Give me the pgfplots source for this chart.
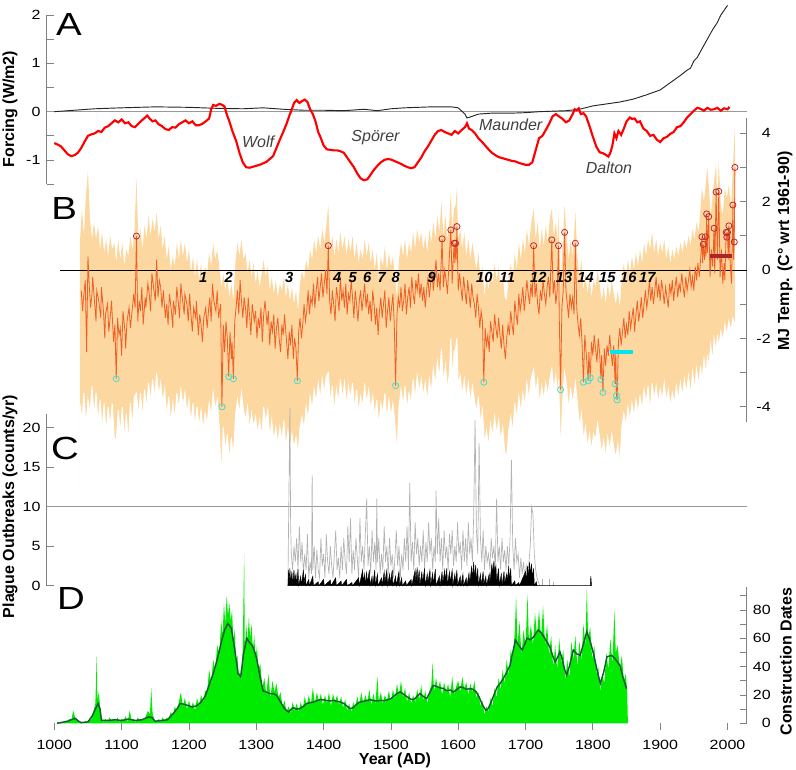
\documentclass[border=0pt]{standalone}
\usepackage{pgfplots}
\pgfplotsset{compat=1.18}
\usepackage{pgfplotstable}
\usepackage{fontspec}
\setmainfont{Liberation Sans}
\newfontfamily\tickfont{Liberation Sans}[FakeStretch=1.2]
\definecolor{bandc}{RGB}{253,215,160}
\definecolor{midc}{RGB}{240,95,35}
\definecolor{redc}{RGB}{190,40,45}
\definecolor{cyanc}{RGB}{64,224,208}
\definecolor{barred}{RGB}{178,34,45}
\definecolor{barcyan}{RGB}{0,230,235}
\definecolor{greenc}{RGB}{0,235,0}
\definecolor{dgreen}{RGB}{25,90,55}
\definecolor{axgray}{RGB}{130,130,130}

% Panel A: solar forcing (red) and total forcing (black)
\pgfplotstableread[row sep=\\]{year f\\
1000 -0.65\\1005 -0.68\\1010 -0.72\\1015 -0.80\\1020 -0.88\\1025 -0.92\\1030 -0.90\\1035 -0.85\\1040 -0.75\\1045 -0.62\\
1050 -0.50\\1055 -0.47\\1060 -0.45\\1065 -0.40\\1070 -0.42\\1075 -0.33\\1080 -0.30\\1085 -0.24\\1090 -0.18\\1095 -0.22\\
1100 -0.16\\1105 -0.24\\1110 -0.22\\1115 -0.30\\1120 -0.32\\1125 -0.25\\1130 -0.18\\1135 -0.12\\1138 -0.08\\1142 -0.15\\
1146 -0.20\\1150 -0.18\\1155 -0.26\\1160 -0.30\\1165 -0.36\\1170 -0.38\\1175 -0.32\\1180 -0.33\\1185 -0.26\\1190 -0.22\\
1195 -0.18\\1200 -0.24\\1205 -0.20\\1210 -0.28\\1215 -0.28\\1220 -0.25\\1225 -0.20\\1230 -0.14\\1233 0.05\\1236 0.14\\
1240 0.12\\1245 0.16\\1250 0.14\\1253 0.10\\1256 -0.05\\1260 -0.20\\1265 -0.42\\1270 -0.60\\1275 -0.85\\1280 -1.05\\
1285 -1.15\\1290 -1.16\\1295 -1.14\\1300 -1.12\\1305 -1.10\\1310 -1.07\\1315 -1.04\\1320 -0.98\\1325 -0.92\\1330 -0.75\\
1335 -0.58\\1340 -0.42\\1345 -0.25\\1350 -0.05\\1353 0.05\\1356 0.18\\1360 0.24\\1364 0.18\\1368 0.22\\1372 0.25\\
1376 0.20\\1380 0.05\\1384 -0.05\\1388 -0.20\\1392 -0.42\\1396 -0.55\\1400 -0.70\\1405 -0.78\\1410 -0.79\\1415 -0.80\\
1420 -0.80\\1425 -0.82\\1430 -0.85\\1435 -0.95\\1440 -1.05\\1445 -1.15\\1450 -1.28\\1455 -1.38\\1460 -1.42\\1465 -1.40\\
1470 -1.30\\1475 -1.20\\1480 -1.12\\1485 -1.05\\1490 -1.00\\1495 -0.98\\1500 -0.99\\1505 -1.02\\1510 -1.05\\1515 -1.08\\
1520 -1.12\\1525 -1.15\\1530 -1.17\\1535 -1.15\\1540 -1.05\\1545 -0.95\\1550 -0.82\\1555 -0.72\\1560 -0.60\\1565 -0.48\\
1570 -0.40\\1575 -0.38\\1580 -0.42\\1585 -0.45\\1590 -0.48\\1595 -0.40\\1600 -0.45\\1605 -0.38\\1610 -0.32\\1613 -0.24\\
1616 -0.35\\1620 -0.38\\1625 -0.45\\1630 -0.55\\1635 -0.62\\1640 -0.70\\1645 -0.78\\1650 -0.85\\1655 -0.90\\1660 -0.94\\
1665 -0.96\\1670 -0.98\\1675 -1.00\\1680 -1.02\\1685 -1.03\\1690 -1.06\\1695 -1.08\\1700 -1.10\\1705 -1.10\\1710 -1.05\\
1715 -0.80\\1720 -0.55\\1725 -0.50\\1730 -0.38\\1735 -0.25\\1740 -0.10\\1745 -0.05\\1750 -0.10\\1755 -0.15\\1760 -0.22\\
1765 -0.18\\1770 -0.05\\1773 0.05\\1776 0.03\\1779 0.07\\1782 -0.05\\1786 -0.03\\1790 -0.10\\1795 -0.30\\1800 -0.52\\
1805 -0.72\\1810 -0.84\\1815 -0.86\\1820 -0.90\\1823 -0.93\\1826 -0.85\\1829 -0.70\\1832 -0.45\\1835 -0.55\\1838 -0.40\\
1842 -0.48\\1846 -0.35\\1850 -0.20\\1855 -0.12\\1858 -0.15\\1862 -0.14\\1866 -0.22\\1870 -0.20\\1875 -0.35\\1880 -0.40\\
1885 -0.50\\1890 -0.48\\1895 -0.58\\1900 -0.63\\1905 -0.55\\1910 -0.52\\1915 -0.46\\1920 -0.42\\1925 -0.32\\1930 -0.30\\
1935 -0.22\\1940 -0.12\\1945 -0.05\\1950 0.02\\1955 0.08\\1960 0.06\\1965 0.02\\1970 0.08\\1975 0.04\\1980 0.05\\
1985 0.08\\1990 0.02\\1995 0.07\\2000 0.05\\2003 0.10\\
}\Ared

\pgfplotstableread[row sep=\\]{year f\\
1000 0.00\\1030 0.03\\1060 0.06\\1100 0.08\\1150 0.10\\1200 0.09\\1240 0.07\\1280 0.06\\1310 0.08\\1340 0.05\\
1370 0.03\\1400 0.03\\1430 0.02\\1460 0.05\\1480 0.02\\1500 0.06\\1520 0.08\\1560 0.10\\1590 0.10\\1600 0.08\\
1610 -0.05\\1613 -0.13\\1620 -0.10\\1630 -0.05\\1650 -0.03\\1680 -0.03\\1700 -0.02\\1720 0.00\\1740 0.01\\1760 0.02\\
1780 0.05\\1800 0.12\\1820 0.16\\1840 0.20\\1860 0.26\\1880 0.35\\1900 0.45\\1910 0.55\\1920 0.65\\1930 0.75\\
1940 0.86\\1945 0.90\\1950 1.05\\1955 1.12\\1960 1.25\\1970 1.50\\1978 1.70\\1985 1.85\\1990 2.00\\1995 2.10\\2000 2.20\\
}\Ablack

% Panel B: uncertainty band (first and last rows close the polygons at -6.5)
\pgfplotstableread[row sep=\\]{year lo hi\\
1038 -6.5 -6.5\\
1038 -3.9 0.8\\1041 -4.4 1.8\\1044 -3.6 1.0\\1047 -4.6 2.2\\1050 -3.8 2.9\\1053 -4.2 1.5\\1056 -3.4 0.9\\1059 -4.3 1.4\\
1062 -3.6 0.9\\1065 -4.5 1.3\\1068 -3.8 0.6\\1071 -4.7 1.1\\1074 -3.9 0.5\\1077 -4.8 0.9\\1080 -4.0 0.4\\1083 -4.6 1.0\\
1086 -3.9 0.6\\1089 -4.9 0.8\\1092 -5.0 0.2\\1095 -4.1 0.9\\1098 -4.8 0.3\\1101 -4.0 0.8\\1104 -5.0 0.1\\1107 -4.2 0.6\\
1110 -5.1 0.4\\1113 -3.9 1.0\\1116 -4.6 0.6\\1119 -3.7 1.1\\1122 -3.6 2.7\\1125 -4.3 0.8\\1128 -3.6 1.2\\1131 -4.4 0.6\\
1134 -3.5 1.3\\1137 -4.1 0.9\\1140 -3.3 1.6\\1143 -3.9 1.0\\1146 -3.2 1.5\\1149 -3.8 1.1\\1152 -3.0 1.7\\1155 -3.7 0.9\\
1158 -3.3 1.3\\1161 -3.9 0.6\\1164 -3.5 1.0\\1167 -4.3 0.3\\1170 -3.7 0.7\\1173 -4.5 0.0\\1176 -3.9 0.4\\1179 -4.4 0.1\\
1182 -3.6 0.8\\1185 -4.1 0.3\\1188 -3.5 0.9\\1191 -4.0 0.4\\1194 -3.6 0.8\\1197 -4.2 0.2\\1200 -3.8 0.6\\1203 -4.5 -0.1\\
1206 -3.9 0.4\\1209 -4.6 -0.2\\1212 -4.0 0.3\\1215 -4.6 -0.3\\1218 -4.1 0.2\\1221 -4.7 -0.4\\1224 -4.2 0.1\\1227 -4.5 -0.1\\
1230 -3.9 0.5\\1233 -4.3 0.1\\1236 -3.6 0.8\\1239 -4.1 0.3\\1242 -3.8 0.6\\1245 -4.6 0.1\\1248 -6.1 -0.5\\1251 -4.6 -0.1\\
1254 -5.3 -0.6\\1257 -4.8 -0.2\\1260 -5.6 -0.8\\1263 -4.9 -0.4\\1266 -5.5 -0.9\\1269 -4.3 0.2\\1272 -3.8 0.8\\1275 -4.2 0.4\\
1278 -3.6 0.9\\1281 -4.1 0.3\\1284 -4.4 0.5\\1287 -4.0 -0.1\\1290 -4.7 0.3\\1293 -4.2 -0.2\\1296 -4.6 0.2\\1299 -4.3 -0.4\\
1302 -4.8 0.0\\1305 -4.4 -0.5\\1308 -4.9 -0.1\\1311 -4.0 0.3\\1314 -4.5 -0.2\\1317 -4.1 0.1\\1320 -4.9 -0.6\\1323 -4.4 -0.2\\
1326 -5.0 -0.7\\1329 -4.6 -0.3\\1332 -5.1 -0.8\\1335 -4.6 -0.4\\1338 -5.0 -0.6\\1341 -4.4 -0.2\\1344 -5.2 -0.8\\1347 -4.7 -0.4\\
1350 -5.3 -0.9\\1353 -4.8 -0.5\\1356 -5.2 -1.0\\1359 -4.9 -0.6\\1362 -5.4 -1.2\\1365 -4.6 -0.4\\1368 -4.3 0.0\\1371 -4.7 -0.3\\
1374 -4.0 0.3\\1377 -4.4 0.0\\1380 -3.7 0.6\\1383 -4.1 0.3\\1386 -3.5 0.9\\1389 -3.9 0.5\\1392 -3.3 1.0\\1395 -3.8 0.6\\
1398 -3.2 1.2\\1401 -3.6 0.8\\1404 -3.1 1.3\\1407 -3.0 1.9\\1410 -3.9 0.6\\1413 -3.4 1.0\\1416 -4.2 0.4\\1419 -3.5 0.9\\
1422 -3.9 0.5\\1425 -3.2 1.1\\1428 -3.8 0.6\\1431 -3.3 1.0\\1434 -4.0 0.4\\1437 -3.4 0.9\\1440 -3.8 0.5\\1443 -3.3 1.0\\
1446 -4.1 0.3\\1449 -3.5 0.8\\1452 -4.2 0.2\\1455 -3.7 0.6\\1458 -4.0 0.3\\1461 -3.4 0.9\\1464 -3.9 0.4\\1467 -3.5 0.8\\
1470 -4.1 0.2\\1473 -3.7 0.6\\1476 -4.3 0.0\\1479 -3.8 0.5\\1482 -4.6 -0.3\\1485 -3.9 0.4\\1488 -4.2 0.1\\1491 -3.6 0.7\\
1494 -4.4 0.0\\1497 -3.8 0.5\\1500 -4.3 0.1\\1503 -3.9 0.4\\1506 -4.5 -0.2\\1509 -5.4 -0.8\\1512 -4.0 0.3\\1515 -3.5 0.8\\
1518 -4.0 0.4\\1521 -3.4 0.9\\1524 -4.1 0.3\\1527 -3.6 0.8\\1530 -3.9 0.5\\1533 -3.2 1.1\\1536 -3.8 0.6\\1539 -3.1 1.2\\
1542 -3.6 0.8\\1545 -3.2 1.1\\1548 -3.7 0.6\\1551 -3.3 1.0\\1554 -3.9 0.5\\1557 -3.2 1.2\\1560 -3.6 0.8\\1563 -2.9 1.4\\
1566 -3.4 0.9\\1569 -2.7 1.6\\1572 -3.2 1.1\\1575 -2.3 2.0\\1578 -3.3 1.0\\1581 -2.8 1.6\\1584 -3.5 0.9\\1587 -3.0 1.5\\
1589 -2.0 2.3\\1591 -3.2 1.2\\1594 -2.4 1.8\\1596 -2.3 1.9\\1598 -2.0 2.4\\1600 -3.4 0.9\\1603 -3.1 1.2\\1606 -3.7 0.6\\
1609 -3.2 1.1\\1612 -3.8 0.4\\1615 -3.3 0.9\\1618 -3.9 0.3\\1621 -3.4 0.8\\1624 -3.8 0.4\\1627 -4.2 0.0\\1630 -3.7 0.5\\
1633 -4.5 -0.3\\1636 -4.1 0.1\\1639 -5.1 -0.8\\1642 -4.7 -0.2\\1645 -5.2 -0.6\\1648 -4.5 0.0\\1651 -4.9 -0.4\\1654 -4.3 0.2\\
1657 -4.8 -0.3\\1660 -4.4 0.1\\1663 -5.0 -0.5\\1666 -4.6 -0.1\\1669 -5.3 -0.8\\1672 -5.5 -0.9\\1675 -4.7 -0.2\\1678 -4.3 0.2\\
1681 -4.8 -0.3\\1684 -3.9 0.5\\1687 -4.4 0.0\\1690 -3.7 0.8\\1693 -4.2 0.3\\1696 -3.6 0.9\\1699 -4.0 0.5\\1702 -3.3 1.2\\
1705 -3.8 0.7\\1708 -3.2 1.3\\1712 -2.9 1.8\\1715 -3.6 0.9\\1718 -3.2 1.4\\1721 -4.0 0.6\\1724 -3.4 1.2\\1727 -3.8 0.7\\
1730 -3.3 1.3\\1733 -3.7 0.8\\1736 -3.2 1.5\\1739 -2.9 1.8\\1742 -3.5 1.0\\1745 -3.1 1.4\\1748 -3.8 0.8\\1749 -3.2 1.7\\
1752 -5.4 -0.6\\1755 -3.9 0.7\\1758 -3.0 1.9\\1761 -3.4 1.0\\1764 -4.1 0.3\\1767 -3.5 0.9\\1770 -3.9 0.4\\1774 -3.3 1.7\\
1777 -3.9 0.4\\1780 -4.6 -0.2\\1783 -4.2 0.3\\1786 -5.0 -0.6\\1789 -4.6 -0.1\\1792 -5.2 -0.7\\1795 -4.8 -0.2\\1798 -5.3 -0.8\\
1801 -4.8 -0.3\\1804 -5.0 -0.5\\1807 -4.5 0.0\\1810 -4.9 -0.4\\1813 -5.4 -0.9\\1816 -5.0 -0.5\\1819 -5.5 -1.0\\1822 -4.9 -0.4\\
1825 -5.3 -0.8\\1828 -4.8 -0.3\\1831 -5.2 -0.7\\1834 -5.5 -1.0\\1837 -5.1 -0.6\\1840 -5.7 -1.1\\1843 -4.6 -0.2\\1846 -4.2 0.2\\
1849 -4.6 -0.3\\1852 -4.0 0.3\\1855 -4.4 -0.1\\1858 -3.9 0.4\\1861 -4.3 0.0\\1864 -3.8 0.5\\1867 -4.2 0.1\\1870 -3.7 0.6\\
1873 -4.1 0.2\\1876 -3.5 0.8\\1879 -3.9 0.4\\1882 -3.4 0.9\\1885 -4.2 0.6\\1888 -3.3 1.1\\1891 -3.8 0.5\\1894 -3.4 0.9\\
1897 -3.9 0.4\\1900 -3.5 0.8\\1903 -3.8 0.5\\1906 -3.3 0.9\\1909 -3.9 0.3\\1912 -3.5 0.7\\1915 -4.0 0.2\\1918 -3.6 0.6\\
1921 -3.9 0.3\\1924 -3.4 0.7\\1927 -3.8 0.4\\1930 -3.3 0.8\\1933 -3.7 0.5\\1936 -3.2 0.9\\1939 -3.6 0.6\\1942 -3.1 1.0\\
1945 -3.7 0.7\\1948 -3.0 1.2\\1951 -3.5 0.9\\1954 -2.9 1.4\\1957 -3.4 1.1\\1960 -2.8 1.8\\1962 -3.3 2.4\\1965 -2.6 2.0\\
1968 -3.1 2.6\\1970 -2.5 3.0\\1972 -2.9 2.5\\1975 -2.2 1.6\\1978 -2.7 2.2\\1980 -2.0 2.6\\1983 -2.4 3.1\\1985 -1.9 2.0\\
1987 -2.3 3.2\\1990 -1.8 1.9\\1993 -2.1 1.6\\1996 -1.6 2.4\\1999 -1.9 2.1\\2002 -1.5 2.5\\2005 -1.8 1.8\\2008 -1.4 3.0\\
2011 -1.6 4.2\\
2011 -6.5 -6.5\\
}\Bband

% Panel B: MJ temperature
\pgfplotstableread[row sep=\\]{year t\\
1040 -0.6\\1042 -1.2\\1043 -0.9\\1046 -0.3\\1048 -2.4\\1050 0.4\\1052 -0.5\\1054 -1.1\\1056 -0.7\\1057 -0.2\\
1060 -1.0\\1062 -1.5\\1063 -0.6\\1066 -0.9\\1069 -1.4\\1070 -0.5\\1073 -1.2\\1075 -2.0\\1076 -1.3\\1079 -1.0\\
1081 -1.8\\1083 -1.4\\1085 -0.9\\1088 -2.1\\1090 -1.6\\1092 -3.18\\1094 -1.4\\1096 -1.9\\1098 -1.7\\1100 -2.5\\
1102 -1.2\\1105 -1.8\\1106 -2.3\\1108 -1.5\\1111 -1.1\\1113 -1.7\\1115 -1.3\\1118 -0.7\\1120 -1.1\\1122 0.99\\
1124 -1.5\\1126 -0.9\\1128 -1.2\\1130 -0.5\\1132 -1.6\\1135 -0.8\\1136 -1.1\\1139 -0.4\\1141 -0.7\\1143 -1.2\\
1145 -0.1\\1148 -0.6\\1150 -0.9\\1152 0.3\\1154 -0.8\\1156 -0.3\\1158 -0.5\\1160 -1.1\\1162 -0.6\\1165 -1.4\\
1167 -1.0\\1169 -1.6\\1171 -0.7\\1174 -1.2\\1176 -1.7\\1177 -0.9\\1180 -1.3\\1182 -0.5\\1184 -0.9\\1186 -1.4\\
1188 -0.4\\1190 -0.8\\1193 -1.3\\1194 -0.7\\1197 -1.0\\1199 -1.5\\1201 -0.7\\1203 -1.3\\1205 -1.8\\1207 -1.1\\
1210 -1.4\\1211 -0.9\\1214 -1.9\\1216 -1.3\\1218 -1.6\\1220 -2.1\\1222 -1.4\\1225 -1.1\\1227 -1.7\\1229 -1.2\\
1231 -0.8\\1233 -1.5\\1235 -0.4\\1237 -0.9\\1240 -1.2\\1242 -0.6\\1244 -1.4\\1247 -1.0\\1249 -4.0\\1251 -1.6\\
1253 -2.4\\1255 -1.5\\1257 -2.0\\1259 -3.12\\1261 -1.8\\1263 -2.6\\1264 -2.1\\1266 -3.18\\1268 -1.5\\1270 -1.1\\
1272 -0.6\\1274 -1.3\\1276 -0.3\\1278 -0.9\\1280 -1.4\\1282 -0.8\\1284 -1.1\\1286 -1.7\\1288 -0.8\\1290 -1.3\\
1292 -1.9\\1294 -1.0\\1297 -1.5\\1299 -1.2\\1301 -2.0\\1303 -1.4\\1305 -1.7\\1307 -1.1\\1309 -2.1\\1311 -1.3\\
1313 -0.9\\1316 -1.6\\1318 -1.2\\1320 -2.2\\1322 -1.5\\1324 -1.8\\1326 -1.3\\1328 -2.3\\1330 -1.7\\1332 -1.4\\
1334 -2.0\\1336 -2.4\\1338 -1.6\\1340 -1.9\\1342 -1.3\\1345 -2.1\\1347 -2.6\\1349 -1.8\\1351 -2.2\\1353 -1.6\\
1355 -2.6\\1357 -2.0\\1359 -2.3\\1361 -3.24\\1363 -1.8\\1365 -1.4\\1367 -2.0\\1369 -1.6\\1371 -1.0\\1373 -1.5\\
1375 -1.2\\1377 -0.6\\1379 -1.3\\1381 -0.8\\1383 -1.0\\1385 -0.4\\1387 -1.1\\1389 -0.6\\1391 -0.2\\1393 -0.9\\
1395 -0.5\\1397 -0.1\\1399 -0.8\\1401 -0.4\\1403 0.0\\1405 -0.7\\1407 0.71\\1409 -0.9\\1411 -1.3\\1413 -0.6\\
1415 -1.0\\1417 -1.5\\1419 -0.5\\1421 -0.8\\1423 -1.2\\1425 -0.2\\1427 -0.9\\1429 -0.6\\1431 -1.1\\1433 -0.4\\
1435 -1.3\\1437 -0.7\\1439 -0.9\\1441 -0.3\\1443 -0.8\\1445 -1.4\\1447 -0.6\\1449 -1.0\\1451 -1.5\\1453 -0.9\\
1455 -0.6\\1457 -1.2\\1459 -0.8\\1461 -0.4\\1463 -1.1\\1465 -0.7\\1467 -1.3\\1469 -0.9\\1471 -1.5\\1473 -0.6\\
1475 -1.0\\1477 -1.6\\1479 -1.1\\1481 -1.9\\1483 -1.2\\1485 -0.8\\1487 -1.4\\1489 -1.0\\1491 -0.6\\1493 -1.7\\
1495 -1.2\\1497 -0.8\\1499 -1.5\\1501 -1.1\\1503 -0.7\\1505 -1.6\\1507 -3.38\\1509 -1.3\\1511 -0.8\\1513 -1.1\\
1515 -0.5\\1517 -1.2\\1519 -0.9\\1521 -0.4\\1523 -1.3\\1525 -0.8\\1527 -0.5\\1529 -1.1\\1531 -0.2\\1533 -0.7\\
1535 -1.0\\1537 -0.3\\1539 -0.6\\1541 -0.1\\1543 -0.8\\1545 -0.4\\1547 -0.9\\1549 -0.5\\1551 -1.1\\1553 -0.6\\
1555 -0.2\\1557 -0.8\\1559 -0.4\\1561 0.0\\1563 -0.6\\1565 -0.2\\1567 0.3\\1569 -0.5\\1571 -0.1\\1573 -0.6\\
1576 0.91\\1578 -0.5\\1580 0.0\\1582 -0.3\\1584 -0.7\\1586 0.1\\1589 1.17\\1591 -0.4\\1592 0.1\\1594 0.78\\
1595 0.2\\1596 0.78\\1597 0.3\\1598 1.27\\1600 -0.6\\1602 -0.1\\1604 -0.5\\1606 -0.9\\1608 -0.2\\1610 -0.6\\
1612 -1.0\\1614 -0.3\\1616 -0.7\\1618 -1.1\\1620 -0.4\\1622 -0.8\\1624 -1.0\\1626 -1.4\\1628 -0.7\\1630 -1.1\\
1632 -1.7\\1634 -1.2\\1636 -1.5\\1638 -3.28\\1640 -1.7\\1642 -2.2\\1644 -1.9\\1646 -2.4\\1648 -1.5\\1650 -1.8\\
1652 -2.1\\1654 -1.3\\1656 -1.7\\1658 -2.0\\1660 -1.4\\1662 -1.9\\1664 -2.3\\1666 -1.6\\1668 -2.2\\1670 -2.6\\
1672 -2.0\\1674 -1.6\\1676 -1.9\\1678 -1.2\\1680 -1.6\\1682 -1.9\\1684 -0.9\\1686 -1.3\\1688 -1.6\\1690 -0.7\\
1692 -1.2\\1694 -0.9\\1696 -0.5\\1698 -1.2\\1700 -0.8\\1702 -0.3\\1704 -0.7\\1706 -1.0\\1708 -0.4\\1710 -0.8\\
1712 0.71\\1714 -0.8\\1716 -0.4\\1718 -1.0\\1720 -1.3\\1722 -0.6\\1724 -0.9\\1726 -0.3\\1728 -0.7\\1730 -1.0\\
1732 -0.5\\1734 -0.2\\1736 -0.8\\1739 0.88\\1741 -0.7\\1743 -0.3\\1745 -1.0\\1747 -0.6\\1749 0.71\\1750 -1.3\\
1752 -3.5\\1754 -1.1\\1756 -0.6\\1758 1.1\\1760 -0.6\\1762 -1.0\\1764 -1.4\\1766 -0.7\\1768 -1.1\\1770 -0.8\\
1772 -1.3\\1774 0.78\\1776 -1.1\\1778 -1.6\\1780 -1.9\\1782 -1.4\\1784 -2.2\\1786 -3.28\\1788 -1.9\\1790 -2.4\\
1791 -2.7\\1793 -3.24\\1794 -2.4\\1796 -3.15\\1798 -2.1\\1800 -2.5\\1802 -1.9\\1804 -2.3\\1806 -2.7\\1808 -2.0\\
1810 -2.4\\1812 -3.2\\1813 -2.5\\1815 -3.58\\1817 -2.3\\1819 -2.8\\1821 -2.2\\1823 -2.5\\1825 -1.9\\1827 -2.4\\
1829 -2.8\\1831 -2.2\\1833 -3.33\\1834 -2.4\\1835 -3.67\\1836 -3.8\\1838 -2.1\\1840 -1.7\\1842 -2.2\\1844 -1.8\\
1846 -1.4\\1848 -2.0\\1850 -1.6\\1852 -1.9\\1854 -1.2\\1856 -1.7\\1858 -1.4\\1860 -1.1\\1862 -1.8\\1864 -1.3\\
1866 -0.9\\1868 -1.5\\1870 -1.2\\1872 -0.8\\1874 -1.4\\1876 -1.0\\1878 -0.6\\1880 -1.1\\1882 -0.8\\1884 -0.3\\
1886 -0.9\\1888 -0.5\\1890 -1.0\\1892 -0.6\\1894 -0.2\\1896 -0.8\\1898 -0.4\\1900 -0.9\\1902 -0.3\\1904 -0.6\\
1906 -1.0\\1908 -0.5\\1910 -0.8\\1912 -1.1\\1914 -0.4\\1916 -0.7\\1918 -0.3\\1920 -0.9\\1922 -0.5\\1924 -0.2\\
1926 -0.8\\1928 -0.4\\1930 -0.6\\1932 -0.1\\1934 -0.5\\1936 -0.8\\1938 -0.2\\1940 -0.6\\1942 -0.3\\1944 0.0\\
1946 -0.5\\1948 -0.2\\1950 -0.6\\1952 0.1\\1954 -0.3\\1956 0.2\\1958 -0.2\\1960 0.3\\1962 0.97\\1963 0.2\\
1964 0.75\\1966 0.3\\1967 0.97\\1968 0.4\\1969 1.64\\1970 0.5\\1972 1.56\\1974 -0.2\\1976 0.6\\1978 0.1\\
1980 1.22\\1981 -0.1\\1983 2.28\\1985 0.3\\1987 2.30\\1989 -0.2\\1991 0.6\\1993 -0.4\\1995 0.2\\1996 -0.3\\
1998 1.1\\1999 0.96\\2000 1.1\\2001 0.3\\2002 1.29\\2004 0.2\\2006 -0.4\\2008 1.90\\2009 0.3\\2010 0.82\\
2011 3.0\\
}\Bmidline

\pgfplotstableread[row sep=\\]{year t\\
1122 0.99\\1407 0.71\\1576 0.91\\1589 1.17\\1594 0.78\\1596 0.78\\1598 1.27\\1712 0.71\\1739 0.88\\1749 0.71\\
1758 1.1\\1774 0.78\\1962 0.97\\1964 0.75\\1967 0.97\\1969 1.64\\1972 1.56\\1980 1.22\\1983 2.28\\1987 2.30\\
1998 1.1\\1999 0.96\\2000 1.1\\2002 1.29\\2008 1.90\\2010 0.82\\2011 3.0\\
}\Bwarm

\pgfplotstableread[row sep=\\]{year t\\
1092 -3.18\\1249 -4.0\\1259 -3.12\\1266 -3.18\\1361 -3.24\\1507 -3.38\\1638 -3.28\\1752 -3.5\\1786 -3.28\\1793 -3.24\\
1796 -3.15\\1812 -3.2\\1815 -3.58\\1833 -3.33\\1835 -3.67\\1836 -3.8\\
}\Bcold

% Panel C: plague outbreaks
\pgfplotstableread[row sep=\\]{year n\\
1347 0\\1348 8\\1349 15\\1350 22.5\\1351 8\\1352 4\\1354 2\\1356 5\\1358 3\\1360 6\\1362 2\\1364 7.5\\1366 3\\1368 5.5\\
1370 1.5\\1372 4\\1374 2\\1376 6.5\\1378 1\\1380 3\\1382 1.5\\1383 14\\1384 2\\1386 5\\1388 1\\1390 4.5\\1392 2\\1394 1\\
1396 6\\1398 2.5\\1400 4\\1402 1\\1404 6.5\\1406 3\\1408 1.5\\1410 5\\1412 2.5\\1414 1\\1416 4\\1418 7\\1420 2\\1422 3.5\\
1424 1\\1426 5\\1428 2\\1430 6\\1432 3\\1434 1.5\\1436 7.5\\1438 3\\1440 8.5\\1442 1.5\\1444 4.5\\1446 2\\1448 6\\1450 3.5\\
1452 1\\1454 8.5\\1456 3\\1458 5\\1460 2\\1462 6.5\\1464 11\\1466 2.5\\1468 5\\1470 1.5\\1472 7\\1474 3\\1476 5.5\\1478 2\\
1479 11\\1480 3\\1482 6\\1484 1.5\\1486 4\\1488 2\\1490 7.5\\1492 3\\1494 5\\1496 1.5\\1498 6\\1500 2.5\\1502 4\\1504 1\\
1506 3.5\\1508 7\\1510 2.5\\1512 5\\1514 1\\1516 4\\1518 2\\1520 6\\1522 3\\1524 7.5\\1526 2\\1528 13\\1530 3\\1532 5.5\\
1534 2\\1536 8\\1538 4\\1540 6\\1542 2.5\\1544 5\\1546 3\\1548 7\\1550 2\\1552 5.5\\1554 3\\1556 8\\1558 4\\1560 6\\1562 2\\
1564 5\\1566 3\\1567 12\\1569 4\\1571 8.5\\1573 3\\1575 6\\1577 2\\1579 7\\1581 3.5\\1583 5\\1585 2\\1587 6.5\\1589 4\\
1591 7\\1593 2.5\\1595 5\\1597 3\\1599 8\\1601 4\\1603 5.5\\1605 2\\1607 7\\1609 3\\1611 6\\1613 2.5\\1615 8\\1617 4\\
1619 6\\1621 3\\1623 9\\1625 20.9\\1627 7\\1629 4\\1631 18\\1633 6\\1635 3\\1637 7\\1639 2\\1641 5\\1643 3\\1645 4\\
1647 2\\1649 6\\1651 3.5\\1653 5\\1655 2\\1657 11\\1659 3\\1661 5\\1663 2\\1665 6\\1667 3\\1669 4.5\\1671 2\\1673 5\\
1675 2.5\\1677 6\\1679 15.9\\1681 5\\1683 2\\1685 6\\1687 3\\1689 4\\1691 1\\1693 3.5\\1695 1.5\\1697 3\\1699 1\\
1701 2.5\\1703 1\\1705 3\\1707 5\\1709 10\\1711 9\\1713 4\\1715 2\\1717 1\\1719 0.5\\1721 0\\
}\Cgray

\pgfplotstableread[row sep=\\]{year n\\
1347 0\\1348 2\\1349 0.5\\1350 2.2\\1351 0.3\\1353 1.8\\1354 0\\1356 2\\1357 0.5\\1359 1.5\\1360 0\\1362 2.1\\1363 0\\
1366 1.2\\1367 0\\1370 2\\1371 0.3\\1373 1.5\\1374 0\\1378 0.8\\1379 0\\1384 1.2\\1385 0\\1392 0.5\\1393 0\\1400 0.8\\
1401 0\\1410 0.7\\1411 0\\1418 1\\1419 0\\1426 0.6\\1427 0\\1434 0.8\\1435 0\\1442 0.4\\1443 0\\1452 1\\1453 0\\1458 2\\
1459 0.5\\1461 1.5\\1462 0\\1464 1.8\\1465 0.3\\1468 2\\1469 0\\1472 1.2\\1473 0\\1476 2\\1477 0\\1480 1.5\\1481 0\\
1486 1\\1487 0\\1490 1.8\\1491 0.4\\1494 2\\1495 0\\1498 1.5\\1499 0.3\\1502 2\\1503 0\\1507 1.2\\1508 0\\1512 1.8\\
1513 0\\1516 1\\1517 0\\1522 0.6\\1523 0\\1530 0.8\\1531 0\\1536 2\\1537 0.5\\1539 2.3\\1540 0.4\\1542 2\\1543 0\\
1546 1.8\\1547 0.3\\1550 2.2\\1551 0\\1554 1.5\\1555 0.4\\1558 2\\1559 0\\1562 1.6\\1563 0.2\\1566 2.1\\1567 0\\
1572 1.2\\1573 0\\1576 1.8\\1577 0.3\\1580 2\\1581 0.5\\1583 2.2\\1584 0\\1587 1.8\\1588 0.4\\1591 2\\1592 0\\
1595 1.5\\1596 0.3\\1598 2\\1599 0\\1603 1.2\\1604 0\\1607 1.5\\1608 0\\1612 1\\1613 0\\1616 1.6\\1617 0.2\\
1620 2.5\\1621 0.8\\1623 3\\1624 1\\1626 2.6\\1627 0.5\\1629 2.2\\1630 0\\1633 1.5\\1634 0\\1637 1.8\\1638 0.2\\
1641 1.2\\1642 0\\1646 1.5\\1647 0.4\\1650 2.8\\1651 1.5\\1653 3.1\\1654 1.8\\1656 2.5\\1657 0.5\\1660 2.2\\1661 0\\
1664 1.5\\1665 0\\1668 1.8\\1669 0.3\\1672 1.5\\1673 0.5\\1675 2.5\\1676 0.6\\1678 2.2\\1679 0\\1684 0.6\\1685 0\\
1690 0.4\\1691 0\\1700 1.8\\1701 0.5\\1703 2.5\\1704 1\\1706 3\\1707 1.5\\1709 2.8\\1710 1\\1712 2.2\\1713 0\\
1716 0.5\\1717 0\\1796 0\\1797 1.2\\1798 0\\
}\Cblack

% Panel D: construction dates
\pgfplotstableread[row sep=\\]{year n\\
1004 1\\1007 0\\1010 1\\1013 0.5\\1016 2\\1019 1\\1022 3\\1025 1.5\\1028 9\\1031 4\\1034 3\\1037 0.5\\1040 1\\1043 0\\
1046 1.5\\1049 0.5\\1052 2\\1055 3\\1058 8\\1061 14\\1063 48\\1064 16\\1066 22\\1068 12\\1070 4\\1073 1\\1076 3\\1079 1\\
1082 4\\1085 2\\1088 3\\1091 1.5\\1094 4\\1097 1\\1100 3\\1103 2\\1106 5\\1109 1\\1112 9\\1115 2\\1118 3\\1121 1\\1124 4\\
1127 2\\1130 3\\1133 2\\1136 5\\1139 9\\1142 6\\1144 25\\1146 7\\1149 2\\1152 1\\1155 3\\1158 1.5\\1161 4\\1164 2\\1167 4\\
1170 3\\1173 8\\1176 5\\1179 12\\1182 8\\1185 15\\1188 22\\1191 12\\1194 18\\1197 10\\1200 16\\1203 11\\1206 15\\1209 9\\
1212 18\\1215 12\\1218 20\\1221 15\\1224 23\\1227 22\\1230 38\\1233 28\\1236 45\\1239 38\\1242 55\\1245 50\\1248 72\\
1250 62\\1252 85\\1254 70\\1256 90\\1258 76\\1260 85\\1262 72\\1264 80\\1266 58\\1268 66\\1270 45\\1272 48\\1274 32\\
1276 38\\1278 30\\1280 55\\1282 120\\1283 50\\1285 70\\1287 58\\1289 75\\1291 60\\1293 70\\1295 52\\1297 62\\1299 45\\
1301 55\\1303 38\\1306 42\\1309 25\\1312 32\\1315 20\\1318 35\\1321 18\\1324 30\\1327 22\\1330 28\\1333 18\\1336 22\\
1339 12\\1342 16\\1345 8\\1348 12\\1351 7\\1354 15\\1357 9\\1360 14\\1363 8\\1366 15\\1369 10\\1372 19\\1375 12\\1378 20\\
1381 13\\1384 25\\1387 14\\1390 22\\1393 15\\1396 21\\1399 13\\1402 20\\1405 14\\1408 22\\1411 12\\1414 21\\1417 15\\
1420 20\\1423 13\\1426 19\\1429 11\\1432 17\\1435 9\\1438 14\\1441 8\\1444 15\\1447 11\\1450 19\\1453 13\\1456 22\\
1459 14\\1462 20\\1465 15\\1468 24\\1471 13\\1474 21\\1477 14\\1480 33\\1482 15\\1485 22\\1488 14\\1491 20\\1494 16\\
1497 23\\1500 15\\1503 24\\1506 17\\1509 28\\1512 20\\1515 30\\1518 18\\1521 25\\1524 15\\1527 22\\1530 14\\1533 20\\
1536 15\\1539 24\\1542 17\\1545 27\\1548 16\\1551 23\\1554 14\\1557 22\\1560 27\\1562 43\\1564 22\\1567 32\\1570 24\\
1573 30\\1576 20\\1579 29\\1582 22\\1585 28\\1588 18\\1591 33\\1594 20\\1597 26\\1600 30\\1603 22\\1606 33\\1609 24\\
1612 29\\1615 20\\1618 28\\1621 22\\1624 30\\1627 18\\1630 22\\1633 12\\1636 16\\1639 6\\1642 12\\1645 8\\1648 18\\
1651 12\\1654 25\\1657 18\\1660 32\\1663 24\\1666 38\\1669 28\\1672 45\\1675 34\\1678 52\\1681 45\\1684 65\\1686 90\\
1688 55\\1691 72\\1694 48\\1697 66\\1700 55\\1703 91\\1705 58\\1708 70\\1711 55\\1714 78\\1717 62\\1720 80\\1723 60\\
1726 83\\1729 55\\1732 70\\1735 48\\1738 62\\1741 40\\1744 55\\1747 38\\1750 60\\1753 42\\1756 52\\1759 30\\1762 45\\
1765 32\\1768 58\\1771 45\\1774 62\\1777 40\\1780 58\\1783 44\\1786 70\\1789 55\\1791 96\\1793 60\\1796 68\\1799 45\\
1802 55\\1805 35\\1808 40\\1811 22\\1814 35\\1817 28\\1820 50\\1823 38\\1826 60\\1829 42\\1832 80\\1834 50\\1837 55\\
1840 38\\1843 48\\1846 30\\1849 35\\1851 22\\1852 0\\
}\Dbars

\pgfplotstableread[row sep=\\]{year s\\
1004 0\\1010 0.5\\1020 1.5\\1025 2.5\\1031 3.5\\1036 1.5\\1040 0.5\\1050 1\\1056 5\\1060 9\\1065 14\\1068 10\\1070 2\\
1080 2\\1090 2.5\\1100 2\\1110 3\\1120 2\\1130 2.5\\1140 4.5\\1145 4\\1150 1.5\\1160 2\\1168 2.5\\1175 6\\1182 10\\
1187 14\\1192 13.5\\1197 12.8\\1205 11.5\\1212 12.5\\1218 15\\1224 19\\1230 27\\1236 35\\1242 45\\1248 57\\1253 66\\
1258 70.5\\1263 67\\1268 52\\1273 35\\1277 32.8\\1281 49\\1286 60\\1290 57\\1294 55\\1298 50\\1301 44.6\\1306 32\\
1310 23\\1315 22\\1320 21\\1325 21\\1330 19.8\\1335 16\\1340 11.6\\1345 9\\1348 8\\1352 10\\1355 11\\1360 10\\1365 10.4\\
1370 12\\1375 14\\1380 14.5\\1385 15\\1390 16\\1395 16.7\\1400 16.5\\1405 16\\1410 15.8\\1415 16.2\\1420 15.5\\1425 15\\
1430 14\\1435 12\\1439 10.4\\1444 11\\1449 13.5\\1454 15\\1459 15.5\\1464 16\\1469 16.7\\1474 16\\1479 15.8\\1484 16.2\\
1489 16\\1494 16.5\\1499 17\\1504 19\\1509 21\\1514 22.2\\1520 20\\1526 18\\1530 17\\1534 16.7\\1539 19\\1543 21\\
1548 19\\1553 17.4\\1558 22\\1563 26.8\\1568 26\\1573 25\\1578 24.5\\1583 23\\1588 23.5\\1593 22\\1598 24\\1603 25.7\\
1608 25\\1613 24\\1618 24.5\\1622 24\\1627 22\\1631 18.6\\1636 13\\1641 9.2\\1644 10\\1648 14\\1653 20\\1658 25.7\\
1662 28\\1667 31.6\\1672 36\\1677 41\\1681 50\\1685 58.7\\1690 55\\1695 51.7\\1699 56\\1702 60\\1707 59\\1712 61\\
1716 64\\1719 65.8\\1723 64\\1726 62\\1731 58\\1736 54\\1740 48\\1744 43.4\\1748 47\\1751 50.5\\1754 46\\1758 38\\
1761 34\\1765 40\\1768 46\\1771 51.7\\1776 49\\1781 48\\1786 56\\1791 64.7\\1796 58\\1801 49\\1806 38\\1811 28\\
1816 36\\1821 47\\1828 48\\1834 45\\1840 41\\1845 32\\1850 24.5\\
}\Dsmooth

\pgfplotsset{
  panel/.style={scale only axis, width=525pt, xmin=988.7, xmax=2028.5, clip=false, anchor=south west,
    axis line style={axgray, line width=0.6pt, -}, tick style={axgray, line width=0.6pt},
    major tick length=5.2pt, minor tick length=5.2pt, ytick align=inside,
    tick label style={font=\tickfont\fontsize{10}{12}\selectfont, text=black}},
  leftlab/.style={yticklabel style={anchor=east, inner sep=0pt, xshift=-4.5pt}},
  rightlab/.style={yticklabel style={anchor=east, inner sep=0pt, xshift=18.2pt}},
}

\begin{document}
\begin{tikzpicture}
\useasboundingbox (0pt,0pt) rectangle (597pt,577.5pt);

% ---------- Panel A ----------
\begin{axis}[panel, leftlab, at={(35.025pt,439.39pt)}, height=126.8pt, ymin=-1.5, ymax=2,
  hide x axis, axis y line*=left, ytick={-1,0,1,2}, yticklabels={-1,0,1,2},
  minor ytick={-1.5,-0.5,0.5,1.5}]
\draw[black!40, line width=0.8pt] (988.7,0) -- (2028.5,0);
\addplot[black!85, line width=0.7pt] table[x=year,y=f] {\Ablack};
\addplot[red, line width=1.6pt] table[x=year,y=f] {\Ared};
\end{axis}

% ---------- Panel B ----------
\begin{axis}[panel, rightlab, at={(35.025pt,260.85pt)}, height=228.3pt, ymin=-4.45, ymax=4.45,
  hide x axis, axis y line*=right, ytick={-4,-2,0,2,4}, yticklabels={-4,-2,0,2,4},
  minor ytick={-3,-1,1,3}]
\addplot[fill=bandc, draw=none] table[x=year,y=hi] {\Bband} -- cycle;
\addplot[fill=white, draw=white, line width=0.7pt] table[x=year,y=lo] {\Bband} -- cycle;
\draw[black, line width=0.6pt] (1008,0) -- (2028.5,0);
\addplot[midc, line width=0.6pt] table[x=year,y=t] {\Bmidline};
\addplot[barred, line width=3pt] coordinates {(1974,0.41) (2007,0.41)};
\addplot[barcyan, line width=3pt] coordinates {(1826,-2.39) (1859,-2.39)};
\addplot[only marks, mark=o, mark size=2.3pt, mark options={draw=redc, line width=0.6pt}] table[x=year,y=t] {\Bwarm};
\addplot[only marks, mark=o, mark size=2.3pt, mark options={draw=cyanc, line width=0.6pt}] table[x=year,y=t] {\Bcold};
\end{axis}

% ---------- Panel C ----------
\begin{axis}[panel, leftlab, at={(35.025pt,138.225pt)}, height=128.8pt, ymin=0, ymax=21.7,
  hide x axis, axis y line*=left, ytick={0,5,10,15,20}, yticklabels={0,5,10,15,20}]
\draw[black!40, line width=0.8pt] (988.7,10) -- (2028.5,10);
\addplot[black!30, line width=0.5pt] table[x=year,y=n] {\Cgray};
\addplot[black!30, ycomb, line width=0.5pt] coordinates {(1725,0.8) (1736,0.8) (1741,0.5)};
\addplot[black, fill=black, line width=0.3pt] table[x=year,y=n] {\Cblack} \closedcycle;
\end{axis}

% ---------- Panel D ----------
\begin{axis}[panel, rightlab, at={(35.025pt,35.025pt)}, height=102pt, ymin=0, ymax=96,
  axis y line*=right, axis x line*=bottom, x axis line style={draw=none},
  xtick={1000,1100,...,2000},
  xticklabels={1000,1100,1200,1300,1400,1500,1600,1700,1800,1900,2000},
  xtick align=outside, xticklabel style={anchor=north, inner sep=0pt, yshift=-7pt},
  ytick={0,20,40,60,80}, yticklabels={0,20,40,60,80}, minor ytick={10,30,50,70,90}]
\addplot[draw=none, fill=greenc] table[x=year,y=n] {\Dbars} \closedcycle;
\addplot[dgreen, line width=1.1pt] table[x=year,y=s] {\Dsmooth};
\end{axis}

% ---------- Labels ----------
\begin{scope}[x=0.75pt,y=0.75pt]
\begin{scope}[font=\tickfont\fontsize{24}{24}\selectfont]
\node at (69,745.7) {A};
\node at (64.3,561) {B};
\node at (65,322) {C};
\node at (71,172) {D};
\end{scope}
\begin{scope}[font=\bfseries\fontsize{12}{12}\selectfont]
\node[rotate=90] at (10,661) {Forcing (W/m2)};
\node[rotate=90] at (10,263.5) {Plague Outbreaks (counts/yr)};
\node[rotate=90] at (785,519) {MJ Temp. (C\textdegree{} wrt 1961-90)};
\node[rotate=90] at (786,108.3) {Construction Dates};
\node at (395,10) {Year (AD)};
\end{scope}
\begin{scope}[font=\itshape\fontsize{12}{12}\selectfont, text=black!75]
\node at (258,628.5) {Wolf};
\node at (375.5,632.5) {Spörer};
\node at (510.7,645) {Maunder};
\node at (609,602) {Dalton};
\end{scope}
\begin{scope}[font=\bfseries\itshape\fontsize{11}{11}\selectfont]
\node at (203.3,492.3) {1};
\node at (228.7,492.3) {2};
\node at (289.3,492.3) {3};
\node at (337.3,492.3) {4};
\node at (352.7,492.3) {5};
\node at (367.3,492.3) {6};
\node at (381.7,492.3) {7};
\node at (395.7,492.3) {8};
\node at (431.7,492.3) {9};
\node at (484.3,492.3) {10};
\node at (507.3,492.3) {11};
\node at (538.3,492.3) {12};
\node at (564,492.3) {13};
\node at (585.7,492.3) {14};
\node at (607.3,492.3) {15};
\node at (628.3,492.3) {16};
\node at (647.3,492.3) {17};
\end{scope}
\end{scope}
\end{tikzpicture}
\end{document}
